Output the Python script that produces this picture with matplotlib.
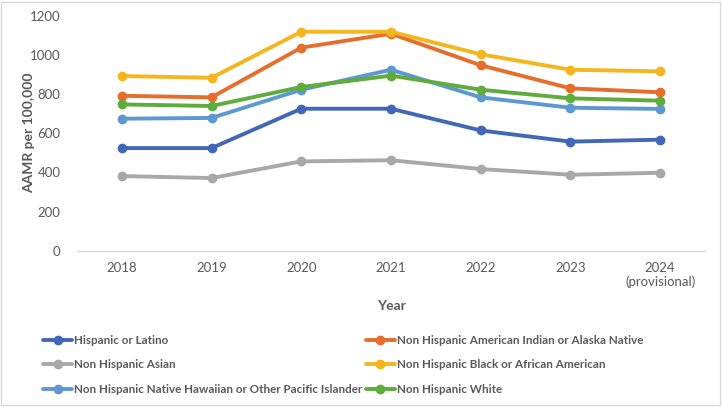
import matplotlib.pyplot as plt
from matplotlib.patches import Rectangle

years = ["2018", "2019", "2020", "2021", "2022", "2023", "2024\n(provisional)"]

hispanic = [524, 524, 725, 725, 614, 557, 567]
aian = [791, 783, 1037, 1108, 947, 829, 809]
asian = [381, 371, 456, 462, 417, 388, 398]
black = [892, 883, 1118, 1118, 1003, 924, 916]
nhpi = [674, 678, 822, 924, 783, 730, 724]
white = [747, 739, 836, 894, 822, 778, 766]

series = [
    ("Hispanic or Latino", hispanic, "#4266b8"),
    ("Non Hispanic American Indian or Alaska Native", aian, "#e66d2c"),
    ("Non Hispanic Asian", asian, "#a8a8a8"),
    ("Non Hispanic Black or African American", black, "#f5b51f"),
    ("Non Hispanic Native Hawaiian or Other Pacific Islander", nhpi, "#5e98d3"),
    ("Non Hispanic White", white, "#5fab3c"),
]

plt.rcParams['font.family'] = ['Lato', 'DejaVu Sans']
grey = "#595959"

fig = plt.figure(figsize=(7.22, 4.07), dpi=100)
ax = fig.add_axes([77 / 722, 1 - 250.7 / 407, 628 / 722, 235 / 407])

x = list(range(len(years)))
handles = []
for name, vals, col in series:
    h, = ax.plot(x, vals, color=col, lw=2.8, marker='o', ms=6, label=name,
                 solid_capstyle='round')
    handles.append(h)

ax.set_xlim(-0.5, len(years) - 0.5)
ax.set_ylim(0, 1200)
ax.set_yticks(range(0, 1201, 200))
ax.set_xticks(x)
ax.set_xticklabels(years)
for s in ["top", "right", "left"]:
    ax.spines[s].set_visible(False)
ax.spines["bottom"].set_color("#d9d9d9")
ax.tick_params(length=0, colors=grey, labelsize=9.5)
ax.tick_params(axis='x', pad=8)
ax.tick_params(axis='y', pad=12)
ax.set_ylabel("AAMR per 100,000", color=grey, fontsize=10, fontweight='bold')
ax.set_xlabel("Year", color=grey, fontsize=10, fontweight='bold')
ax.yaxis.set_label_coords(-0.066, 0.5)
ax.xaxis.set_label_coords(0.5, -0.21)

# row-major order like the original (matplotlib fills legend columns first)
order = [0, 2, 4, 1, 3, 5]
leg = fig.legend(handles=[handles[i] for i in order], loc='upper left',
                 bbox_to_anchor=(43 / 722, 1 - 335 / 407),
                 ncol=2, frameon=False, fontsize=8.4, handlelength=2.5,
                 handletextpad=0.15, columnspacing=0.3, labelspacing=1.15,
                 borderaxespad=0, borderpad=0)
for t in leg.get_texts():
    t.set_color(grey)
    t.set_fontweight('bold')

fig.patches.append(Rectangle((1 / 722, 2 / 407), 719 / 722, 403 / 407, transform=fig.transFigure,
                             fill=False, edgecolor="#d9d9d9", lw=1))

fig.savefig("out.png", dpi=100)
